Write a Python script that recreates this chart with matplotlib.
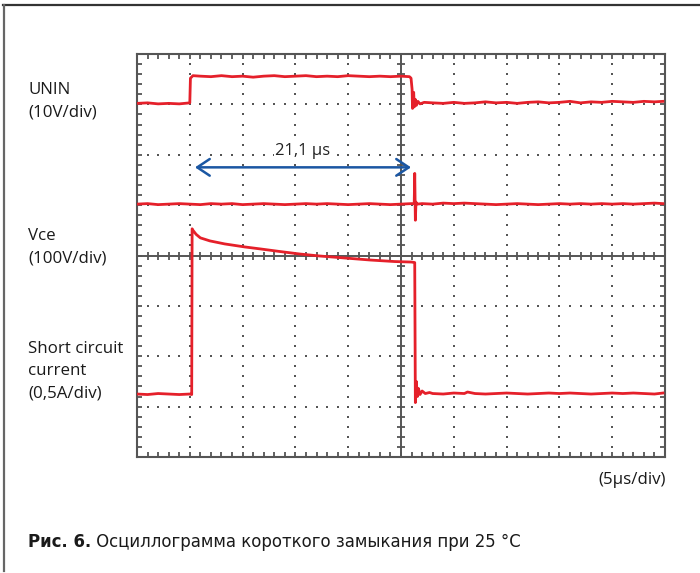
import numpy as np
import matplotlib
matplotlib.use("Agg")
import matplotlib.pyplot as plt
from matplotlib import font_manager
from matplotlib.lines import Line2D

# --- traces, time in us (5 us/div), level in screen divisions (0..8) ---
ch1_t = [0, 1, 2, 3, 4, 5.0, 5.06, 5.3,
         6, 7, 8, 9, 10, 11, 12, 13, 14, 15, 16, 17, 18, 19, 20, 21, 22, 23, 24, 25,
         25.8, 25.95, 26.05, 26.09, 26.15, 26.2, 26.26, 26.35, 26.45, 26.6, 26.8, 27.2,
         28, 29, 30, 31, 32, 33, 34, 35, 36, 37, 38, 39, 40, 41, 42, 43, 44, 45, 46, 47, 48, 49, 49.8]
ch1_v = [7.02, 7.03, 7.01, 7.02, 7.01, 7.03, 7.52, 7.57,
         7.56, 7.55, 7.57, 7.55, 7.56, 7.54, 7.56, 7.57, 7.55, 7.56, 7.57, 7.55, 7.56, 7.55, 7.57, 7.56, 7.55, 7.56, 7.55, 7.56,
         7.55, 7.52, 7.30, 6.92, 6.96, 7.24, 6.95, 7.10, 6.98, 7.06, 7.01, 7.04,
         7.03, 7.02, 7.04, 7.02, 7.03, 7.05, 7.03, 7.04, 7.02, 7.04, 7.05, 7.03, 7.04, 7.06, 7.03, 7.05, 7.04, 7.06, 7.05, 7.04, 7.06, 7.05, 7.06]

ch2_t = [0, 1, 2, 3, 4, 5, 6, 7, 8, 9, 10, 11, 12, 13, 14, 15, 16, 17, 18, 19, 20, 21, 22, 23, 24, 25, 26,
         26.25, 26.3, 26.36, 26.42, 26.5,
         27, 28, 29, 30, 31, 32, 33, 34, 35, 36, 37, 38, 39, 40, 41, 42, 43, 44, 45, 46, 47, 48, 49, 49.8]
ch2_v = [5.02, 5.03, 5.01, 5.02, 5.03, 5.02, 5.01, 5.03, 5.02, 5.03, 5.01, 5.02, 5.03, 5.02, 5.01, 5.02, 5.03, 5.02, 5.03, 5.02, 5.01, 5.02, 5.03, 5.02, 5.01, 5.02, 5.03,
         5.03, 5.63, 4.70, 5.06, 5.02,
         5.03, 5.02, 5.04, 5.03, 5.04, 5.03, 5.02, 5.01, 5.02, 5.03, 5.02, 5.01, 5.02, 5.03, 5.02, 5.03, 5.02, 5.03, 5.02, 5.03, 5.02, 5.03, 5.04, 5.03]

ch3_t = [0, 1, 2, 3, 4, 5, 5.18, 5.22, 5.3, 5.6, 6.0, 6.9, 8.3, 10.2, 11.7, 13.5, 15.4, 17.3, 19.7, 22.1, 24.4, 26.0, 26.3,
         26.36, 26.45, 26.55, 26.65, 26.8, 27.0, 27.3, 27.7,
         28, 29, 30, 31, 31.3, 32, 33, 34, 35, 36, 37, 38, 39, 40, 41, 42, 43, 44, 45, 46, 47, 48, 49, 49.8]
ch3_v = [1.25, 1.24, 1.26, 1.25, 1.24, 1.25, 1.24, 4.53, 4.50, 4.42, 4.35, 4.29, 4.23, 4.17, 4.13, 4.08, 4.03, 3.99, 3.95, 3.91, 3.88, 3.87, 3.86,
         1.08, 1.50, 1.20, 1.36, 1.24, 1.31, 1.26, 1.28,
         1.26, 1.25, 1.27, 1.26, 1.29, 1.26, 1.25, 1.26, 1.27, 1.26, 1.25, 1.26, 1.27, 1.26, 1.27, 1.26, 1.25, 1.26, 1.27, 1.26, 1.27, 1.26, 1.25, 1.27]

channel_labels = [("UNIN", "(10V/div)"), ("Vce", "(100V/div)"), ("Short circuit", "current", "(0,5A/div)")]
time_label = "(5\u00b5s/div)"
delta_label = "21,1 \u00b5s"
delta_from, delta_to, delta_level = 5.49, 25.95, 5.75
caption_bold = "\u0420\u0438\u0441. 6."
caption_text = " \u041e\u0441\u0446\u0438\u043b\u043b\u043e\u0433\u0440\u0430\u043c\u043c\u0430 \u043a\u043e\u0440\u043e\u0442\u043a\u043e\u0433\u043e \u0437\u0430\u043c\u044b\u043a\u0430\u043d\u0438\u044f \u043f\u0440\u0438 25 \u00b0C"

RED = "#e5202a"
GRID = "#555555"
BLUE = "#1b57a3"
W, H = 700, 573

plt.rcParams["font.family"] = ["Open Sans", "DejaVu Sans"]

fig = plt.figure(figsize=(7, 5.73), dpi=100)
ax = fig.add_axes([137 / W, 1 - 457 / H, 528 / W, 403 / H])
ax.set_xlim(0, 50)
ax.set_ylim(0, 8)

for s in ax.spines.values():
    s.set_color(GRID)
    s.set_linewidth(1.5)
ax.set_xticks(np.arange(0, 51, 5))
ax.set_xticks(np.arange(0, 51, 1), minor=True)
ax.set_yticks(np.arange(0, 9, 1))
ax.set_yticks(np.arange(0, 8.01, 0.2), minor=True)
ax.tick_params(which="both", direction="in", top=True, right=True, length=3.5, width=1.3,
               color=GRID, labelbottom=False, labelleft=False)

# dotted graticule
xs = np.arange(0, 51, 1.0)
ys = np.arange(0, 8.01, 0.2)
for t in [5, 10, 15, 20, 30, 35, 40, 45]:
    ax.plot(np.full_like(ys, t), ys, ls="none", marker="s", ms=1.6, mew=0, color=GRID, zorder=1)
for d in [1, 2, 3, 5, 6, 7]:
    ax.plot(xs, np.full_like(xs, d), ls="none", marker="s", ms=1.6, mew=0, color=GRID, zorder=1)

# centre crosshair with ticks
ax.axvline(25, color=GRID, lw=1.4, zorder=1)
ax.axhline(4, color=GRID, lw=1.4, zorder=1)
ax.plot(xs, np.full_like(xs, 4), ls="none", marker="|", ms=6, mew=1.3, color=GRID, zorder=1)
ax.plot(np.full_like(ys, 25), ys, ls="none", marker="_", ms=6, mew=1.3, color=GRID, zorder=1)

for tt, vv in [(ch1_t, ch1_v), (ch2_t, ch2_v), (ch3_t, ch3_v)]:
    ax.plot(tt, vv, color=RED, lw=2.0, zorder=3, solid_joinstyle="round")

ax.annotate("", xy=(delta_from, delta_level), xytext=(delta_to, delta_level),
            arrowprops=dict(arrowstyle="<->,head_length=0.9,head_width=0.6", color=BLUE,
                            lw=1.8, shrinkA=0, shrinkB=0, mutation_scale=10), zorder=4)
ax.text(15.72, 5.99, delta_label, ha="center", va="baseline", fontsize=12, color="#222222",
        bbox=dict(fc="white", ec="none", pad=1.0), zorder=2)

# channel labels
label_baselines = [[94, 116], [240, 262], [353, 375, 397]]
for lines, ybs in zip(channel_labels, label_baselines):
    for txt, yb in zip(lines, ybs):
        fig.text(28 / W, 1 - yb / H, txt, fontsize=12.2, va="baseline", color="#1a1a1a")

fig.text(666 / W, 1 - 484 / H, time_label, fontsize=12.2, va="baseline", ha="right", color="#1a1a1a")

# outer frame
fig.add_artist(Line2D([3 / W, 1], [1 - 5 / H, 1 - 5 / H], color="#333333", lw=1.6))
fig.add_artist(Line2D([3.8 / W, 3.8 / W], [1 - 5 / H, 1 - 571 / H], color="#666666", lw=1.6))

# caption, in a narrow face with Cyrillic if one is installed
fam, stretch = "DejaVu Sans", "normal"
for f in font_manager.fontManager.ttflist:
    if f.name == "Liberation Sans Narrow":
        fam, stretch = f.name, "normal"
        break
    if f.name == "DejaVu Sans" and f.stretch in ("condensed", "semi-condensed"):
        fam, stretch = f.name, f.stretch
families = [fam, "DejaVu Sans"]

renderer = fig.canvas.get_renderer()
cb = fig.text(28 / W, 1 - 547 / H, caption_bold, family=families, stretch=stretch, weight="bold",
              fontsize=15, va="baseline", color="#1a1a1a")
cr = fig.text(0, 1 - 547 / H, caption_text, family=families, stretch=stretch,
              fontsize=15, va="baseline", color="#1a1a1a")
wb = cb.get_window_extent(renderer).width
wr = cr.get_window_extent(renderer).width
size = min(15, 15 * 494 / (wb + wr))
cb.set_fontsize(size)
cr.set_fontsize(size)
wb = cb.get_window_extent(renderer).width
cr.set_x((28 + wb) / W)

fig.savefig("out.png", dpi=100)
